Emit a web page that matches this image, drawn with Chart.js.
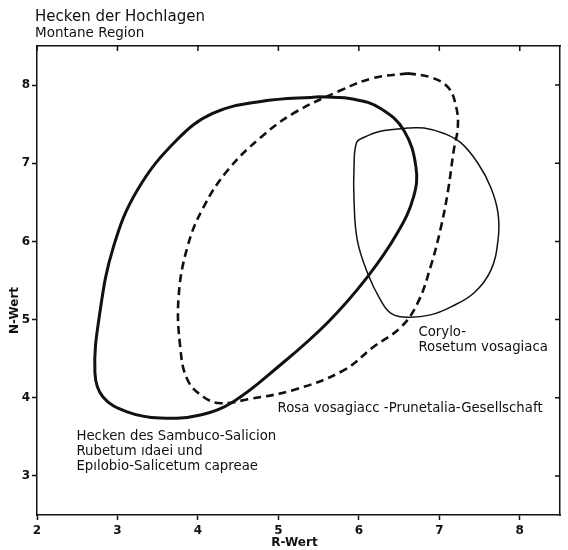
<!DOCTYPE html>
<html lang="de">
<head>
  <meta charset="UTF-8">
  <title>Hecken der Hochlagen</title>
  <script src="https://cdn.jsdelivr.net/npm/chart.js"></script>
  <style>
    body { margin: 0; background: #fff; }
  </style>
</head>
<body>
  <canvas id="chart" width="568" height="550"></canvas>

  <script>
    // ticks
    const rTicks = [2, 3, 4, 5, 6, 7, 8];
    const nTicks = [3, 4, 5, 6, 7, 8];

    // Hecken des Sambuco-Salicion (thick solid)
    const sambucoR = [5.52, 5.94, 6.27, 6.56, 6.71, 6.68, 6.48, 6.11, 5.61, 4.99, 4.44, 4.03, 3.53, 3.12, 2.82, 2.72, 2.78, 2.95, 3.25, 3.74, 4.19, 4.78, 5.52];
    const sambucoN = [7.85, 7.82, 7.70, 7.42, 6.95, 6.57, 6.11, 5.55, 4.96, 4.39, 3.95, 3.78, 3.74, 3.82, 4.01, 4.32, 5.08, 5.93, 6.66, 7.30, 7.64, 7.79, 7.85];

    // Rosa vosagiaca - Prunetalia (dashed)
    const rosaR = [6.61, 6.89, 7.11, 7.21, 7.23, 7.18, 7.11, 7.02, 6.89, 6.73, 6.52, 6.18, 5.81, 5.19, 4.62, 4.28, 4.07, 3.87, 3.78, 3.76, 3.87, 4.07, 4.37, 4.78, 5.19, 5.77, 6.18, 6.61];
    const rosaN = [8.15, 8.10, 7.97, 7.72, 7.46, 7.17, 6.66, 6.18, 5.67, 5.21, 4.90, 4.65, 4.35, 4.10, 3.98, 3.93, 4.01, 4.23, 4.65, 5.29, 5.93, 6.44, 6.91, 7.33, 7.64, 7.93, 8.09, 8.15];

    // Corylo-Rosetum vosagiaca (thin solid)
    const coryloR = [6.61, 6.81, 7.06, 7.27, 7.48, 7.64, 7.73, 7.73, 7.64, 7.43, 7.14, 6.89, 6.61, 6.40, 6.27, 6.11, 5.98, 5.94, 5.94, 5.97, 6.06, 6.27, 6.61];
    const coryloN = [7.45, 7.45, 7.38, 7.26, 7.00, 6.69, 6.36, 6.02, 5.63, 5.34, 5.16, 5.06, 5.03, 5.08, 5.25, 5.59, 6.02, 6.53, 6.95, 7.26, 7.33, 7.41, 7.45];

    const toPoints = (xs, ys) => xs.map((x, i) => ({ x: x, y: ys[i] }));
    const onlyTicks = (list) => (scale) => { scale.ticks = list.map((v) => ({ value: v })); };

    // text labels, anchored at data values (R, N)
    const notes = [
      { lines: ['Corylo-', 'Rosetum vosagiaca'], r: 6.74, n: 4.84 },
      { lines: ['Rosa vosagiacc -Prunetalia-Gesellschaft'], r: 4.99, n: 3.86 },
      { lines: ['Hecken des Sambuco-Salicion', 'Rubetum ıdaei und', 'Epılobio-Salicetum capreae'], r: 2.49, n: 3.51 },
    ];

    const FONT = '"DejaVu Sans", sans-serif';

    const textPlugin = {
      id: 'texts',
      afterDraw(chart) {
        const ctx = chart.ctx;
        const area = chart.chartArea;
        const xs = chart.scales.x;
        const ys = chart.scales.y;
        ctx.save();
        ctx.fillStyle = '#111';
        ctx.strokeStyle = '#111';
        ctx.textBaseline = 'middle';

        // inward ticks on top and right frame
        ctx.lineWidth = 1.5;
        ctx.beginPath();
        rTicks.forEach((v) => {
          const px = xs.getPixelForValue(v);
          ctx.moveTo(px, area.top);
          ctx.lineTo(px, area.top + 5);
        });
        nTicks.forEach((v) => {
          const py = ys.getPixelForValue(v);
          ctx.moveTo(area.right, py);
          ctx.lineTo(area.right - 5, py);
        });
        ctx.stroke();

        // headings
        ctx.textAlign = 'left';
        ctx.font = '15px ' + FONT;
        ctx.fillText('Hecken der Hochlagen', area.left - 2, 17);
        ctx.font = '13.5px ' + FONT;
        ctx.fillText('Montane Region', area.left - 2, 33);

        // axis titles
        ctx.font = 'bold 12px ' + FONT;
        ctx.textAlign = 'center';
        ctx.fillText('R-Wert', (area.left + area.right) / 2 - 4, 543);
        ctx.save();
        ctx.translate(15, (area.top + area.bottom) / 2 + 30);
        ctx.rotate(-Math.PI / 2);
        ctx.fillText('N-Wert', 0, 0);
        ctx.restore();

        // curve labels
        ctx.font = '13.3px ' + FONT;
        ctx.textAlign = 'left';
        notes.forEach((note) => {
          const px = xs.getPixelForValue(note.r);
          const py = ys.getPixelForValue(note.n);
          note.lines.forEach((line, i) => ctx.fillText(line, px, py + i * 15));
        });
        ctx.restore();
      },
    };

    const frameAxis = (position, size) => ({
      position: position,
      ticks: { display: false },
      grid: { display: true, drawOnChartArea: false, drawTicks: false },
      border: { color: '#111', width: 1.5 },
      afterFit: (scale) => {
        if (scale.isHorizontal()) scale.height = size; else scale.width = size;
      },
    });

    new Chart(document.getElementById('chart'), {
      type: 'scatter',
      data: {
        datasets: [
          { label: 'Sambuco-Salicion', data: toPoints(sambucoR, sambucoN), showLine: true, borderColor: '#111', borderWidth: 3, tension: 0.4, pointRadius: 0, fill: false },
          { label: 'Rosa-Prunetalia', data: toPoints(rosaR, rosaN), showLine: true, borderColor: '#111', borderWidth: 2.6, borderDash: [8, 5], tension: 0.4, pointRadius: 0, fill: false },
          { label: 'Corylo-Rosetum', data: toPoints(coryloR, coryloN), showLine: true, borderColor: '#111', borderWidth: 1.5, tension: 0.4, pointRadius: 0, fill: false },
        ],
      },
      options: {
        responsive: false,
        animation: false,
        layout: { padding: 0 },
        plugins: { legend: { display: false }, tooltip: { enabled: false } },
        scales: {
          x: {
            type: 'linear', position: 'bottom', min: 2, max: 8.5,
            afterBuildTicks: onlyTicks(rTicks),
            afterFit: (scale) => { scale.height = 35; },
            grid: { drawOnChartArea: false, tickLength: 5, color: '#111', tickWidth: 1.5 },
            border: { color: '#111', width: 1.5 },
            ticks: { color: '#111', padding: 4, font: { family: FONT, size: 12, weight: 'bold' } },
          },
          y: {
            type: 'linear', position: 'left', min: 2.5, max: 8.5,
            afterBuildTicks: onlyTicks(nTicks),
            afterFit: (scale) => { scale.width = 37; },
            grid: { drawOnChartArea: false, tickLength: 5, color: '#111', tickWidth: 1.5 },
            border: { color: '#111', width: 1.5 },
            ticks: { color: '#111', padding: 2, font: { family: FONT, size: 12, weight: 'bold' } },
          },
          x2: Object.assign({ type: 'linear', min: 2, max: 8.5 }, frameAxis('top', 46)),
          y2: Object.assign({ type: 'linear', min: 2.5, max: 8.5 }, frameAxis('right', 8)),
        },
      },
      plugins: [textPlugin],
    });
  </script>
</body>
</html>
